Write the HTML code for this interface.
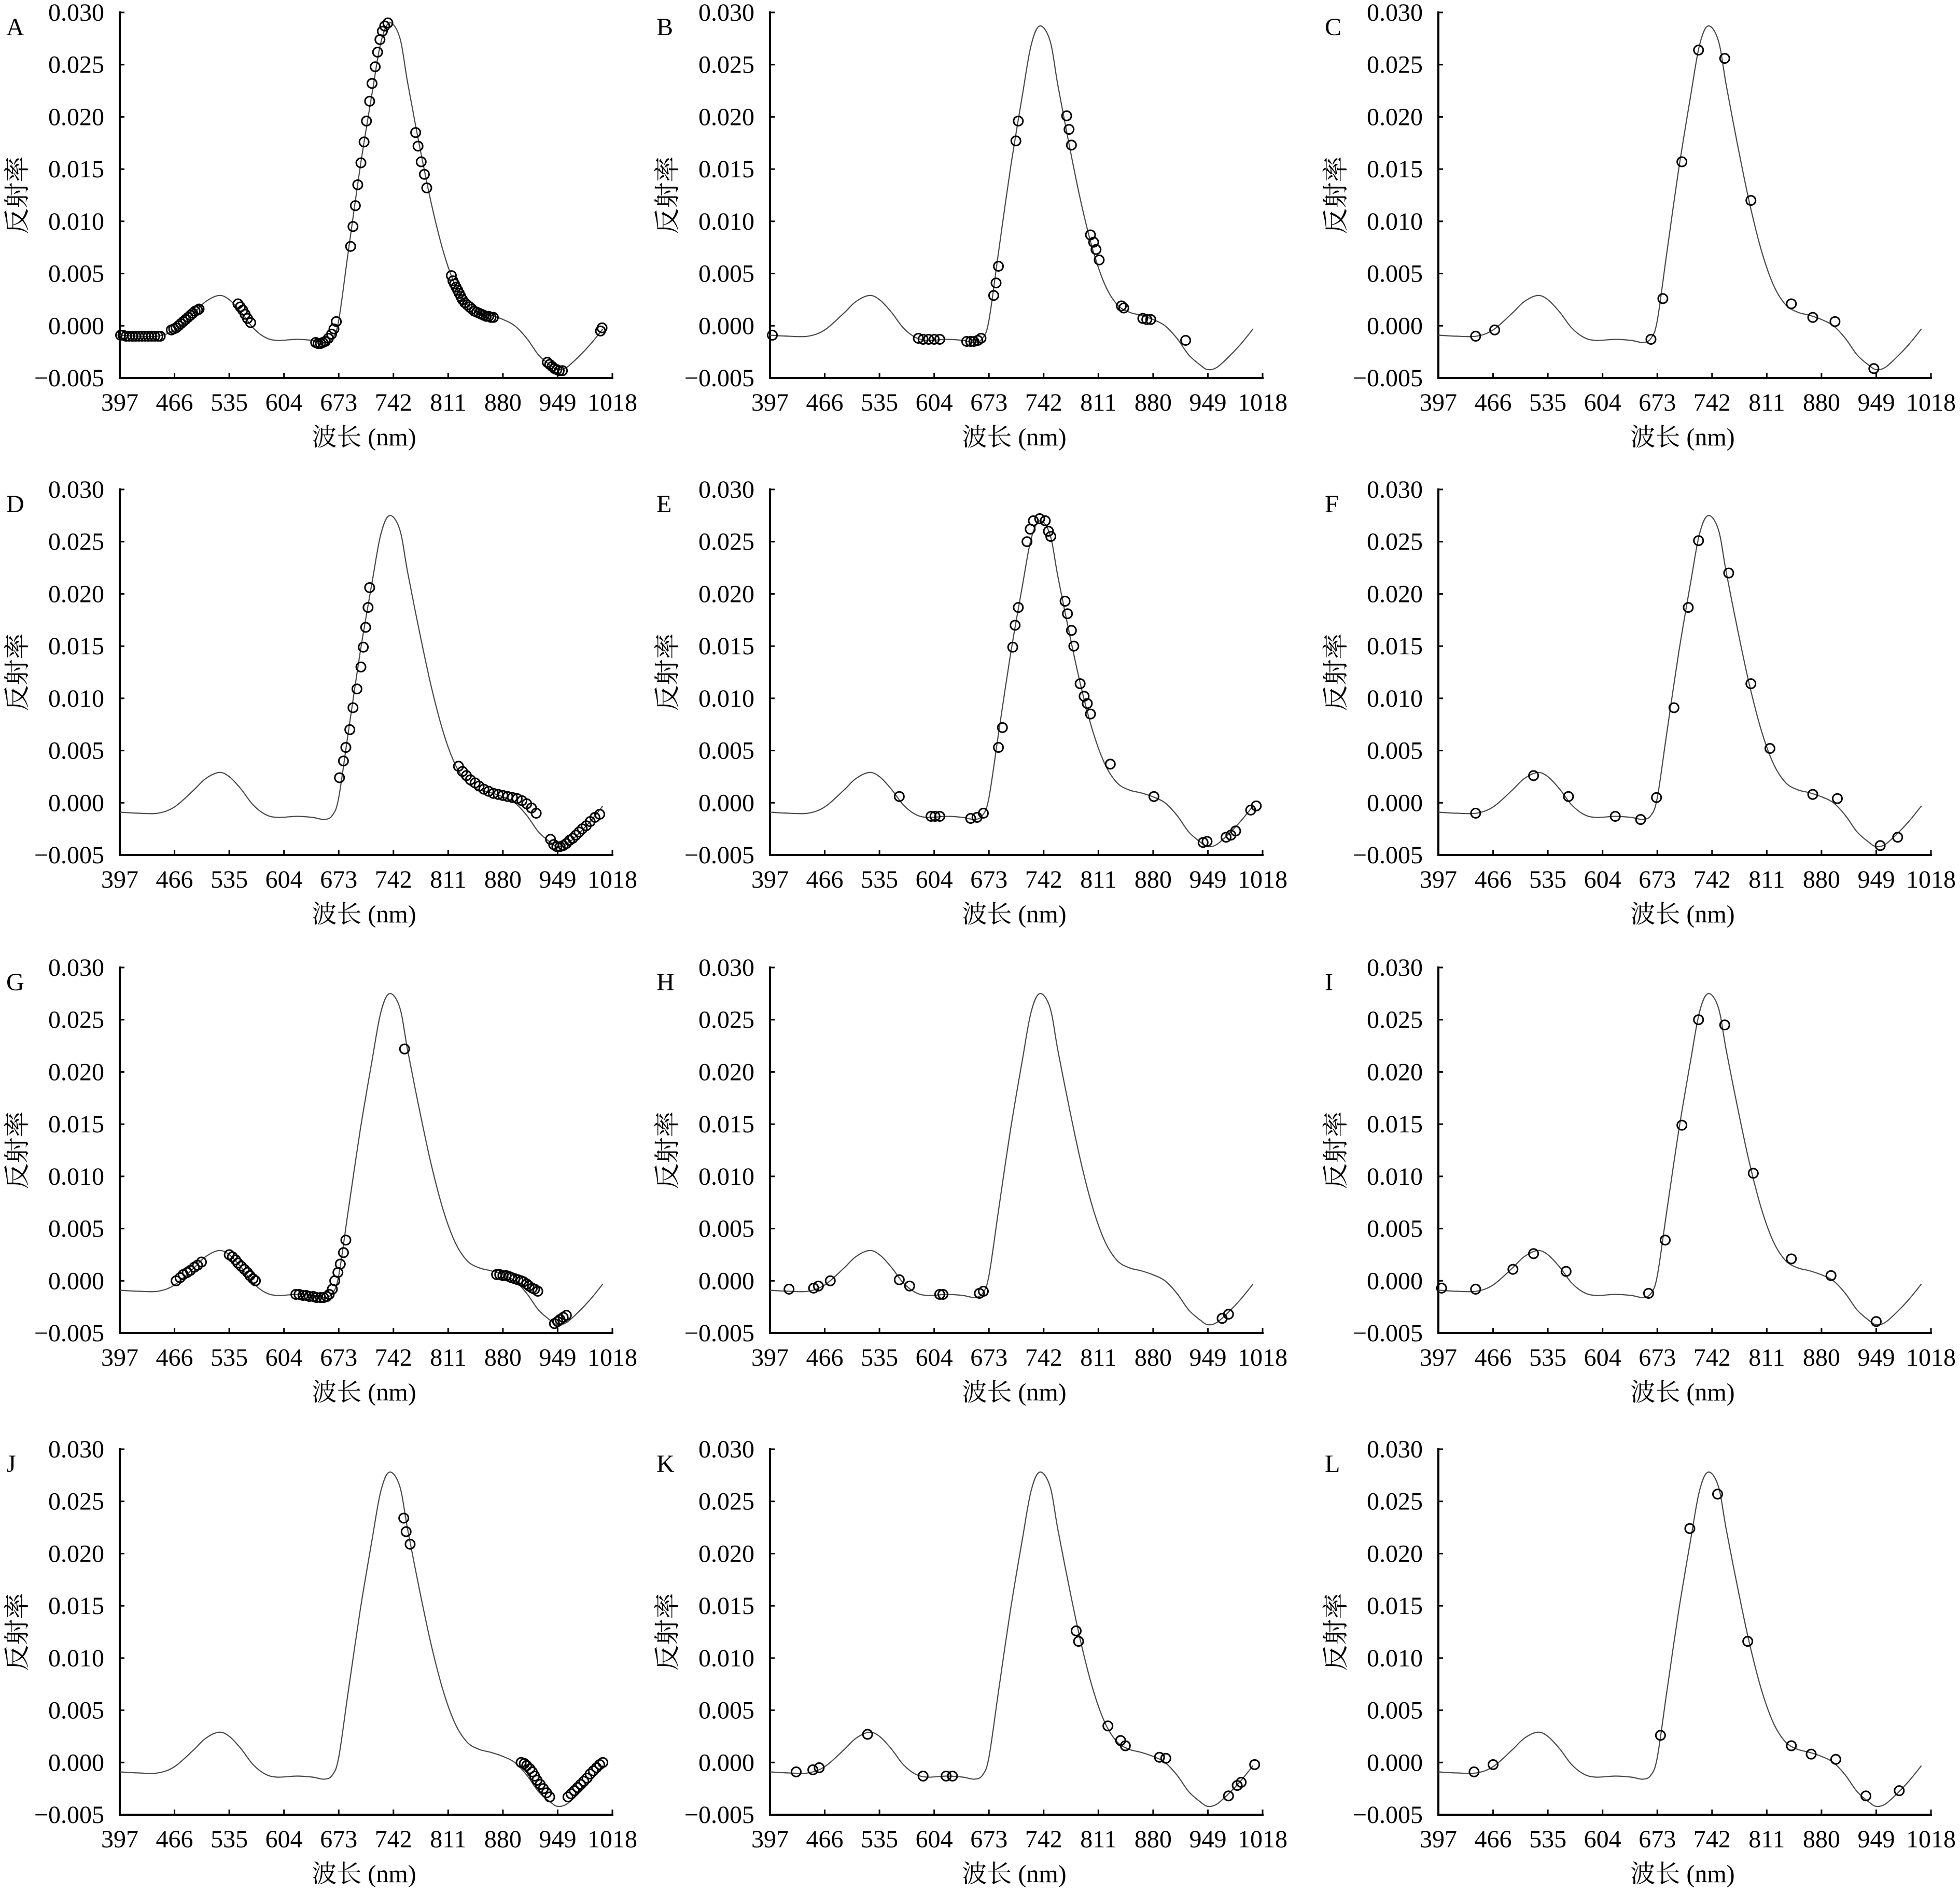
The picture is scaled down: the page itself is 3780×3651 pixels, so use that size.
<!DOCTYPE html>
<html><head><meta charset="utf-8">
<style>
html,body{margin:0;padding:0;background:#fff;}
svg{display:block;}
text{font-family:"Liberation Serif","Noto Serif CJK SC","Noto Sans CJK SC",serif;fill:#000;}
</style></head>
<body>
<svg id="fig" width="3780" height="3651" viewBox="0 0 3780 3651" xmlns="http://www.w3.org/2000/svg"></svg>
<script>
// ---- data ----
const panelLetters = ["A","B","C","D","E","F","G","H","I","J","K","L"];
const xTicks = [397,466,535,604,673,742,811,880,949,1018];
const yTicks = [0.030,0.025,0.020,0.015,0.010,0.005,0.000,-0.005];
const yTickLabels = ["0.030","0.025","0.020","0.015","0.010","0.005","0.000","\u22120.005"];
const curveNm  = [397,420,445,466,490,505,522,535,550,565,580,595,620,640,655,665,673,685,700,715,726,737,750,760,775,790,805,820,835,850,865,880,895,910,925,940,949,960,975,990,1006];
const curveVal = [-0.0009,-0.001,-0.001,-0.0004,0.0012,0.0023,0.0029,0.0025,0.0013,-0.0002,-0.0011,-0.0014,-0.0013,-0.0014,-0.0016,-0.0012,0.0005,0.007,0.015,0.022,0.0268,0.0287,0.0273,0.023,0.017,0.0115,0.007,0.0038,0.002,0.0013,0.001,0.0006,0.0,-0.0012,-0.0028,-0.0038,-0.0042,-0.004,-0.003,-0.0018,-0.0003];
const peakVals = [0.0290,0.0287,0.0287,0.0275,0.0270,0.0275,0.0275,0.0275,0.0275,0.0278,0.0278,0.0278];

const mA_nm = [398,401,405,409,413,417,421,425,429,433,437,441,445,448,462,465,468,471,474,477,480,483,486,489,492,495,497,546,549,552,555,558,562,644,647,650,653,656,660,664,667,670,688,691,694,697,701,705,708,712,715,719,722,725,728,731,735,770,773,777,781,784,815,817,819,821,823,825,827,829,832,835,838,841,844,847,850,853,856,859,862,865,868,936,939,942,945,948,951,955,1003,1005];
const mA_v  = [-0.0009,-0.0009,-0.001,-0.001,-0.001,-0.001,-0.001,-0.001,-0.001,-0.001,-0.001,-0.001,-0.001,-0.001,-0.0004,-0.0003,-0.0002,0.0,0.0002,0.0004,0.0006,0.0008,0.001,0.0012,0.0014,0.0015,0.0016,0.0021,0.0018,0.0015,0.0011,0.0007,0.0003,-0.0016,-0.0017,-0.0017,-0.0016,-0.0015,-0.0012,-0.0008,-0.0003,0.0004,0.0076,0.0095,0.0115,0.0135,0.0156,0.0176,0.0196,0.0215,0.0232,0.0248,0.0262,0.0274,0.0282,0.0287,0.029,0.0185,0.0172,0.0157,0.0145,0.0132,0.0048,0.0043,0.004,0.0037,0.0034,0.0031,0.0028,0.0025,0.0022,0.002,0.0018,0.0016,0.0014,0.0013,0.0012,0.0011,0.001,0.0009,0.0009,0.0008,0.0008,-0.0035,-0.0037,-0.0039,-0.0041,-0.0042,-0.0043,-0.0043,-0.0005,-0.0002];
const mB_nm = [400,584,590,597,604,611,645,650,654,659,663,679,682,685,707,710,771,774,777,801,805,808,812,840,843,867,872,877,921];
const mB_v  = [-0.0009,-0.0012,-0.0013,-0.0013,-0.0013,-0.0013,-0.0015,-0.0015,-0.0015,-0.0014,-0.0012,0.0029,0.0041,0.0057,0.0177,0.0196,0.0201,0.0188,0.0173,0.0087,0.008,0.0073,0.0063,0.0019,0.0017,0.0007,0.0006,0.0006,-0.0014];
const mC_nm = [444,468,665,680,704,725,758,791,842,869,897,946];
const mC_v  = [-0.001,-0.0004,-0.0013,0.0026,0.0157,0.0264,0.0256,0.012,0.0021,0.0008,0.0004,-0.0041];
const mD_nm = [674,679,682,687,691,696,701,704,707,710,712,824,829,834,839,845,850,856,862,868,874,880,886,892,898,904,910,916,922,940,944,948,952,956,960,964,968,972,976,980,985,990,996,1002];
const mD_v  = [0.0024,0.004,0.0053,0.007,0.0091,0.0109,0.013,0.0149,0.0168,0.0187,0.0206,0.0035,0.003,0.0026,0.0022,0.0019,0.0016,0.0013,0.0011,0.0009,0.0008,0.0007,0.0006,0.0005,0.0004,0.0002,-0.0001,-0.0005,-0.001,-0.0035,-0.004,-0.0042,-0.0042,-0.0041,-0.0039,-0.0036,-0.0034,-0.0031,-0.0028,-0.0025,-0.0022,-0.0018,-0.0014,-0.0011];
const mE_nm = [560,600,605,611,650,658,666,685,690,703,706,710,721,725,729,737,744,748,751,769,772,777,780,788,793,797,801,826,881,943,948,972,978,984,1003,1010];
const mE_v  = [0.0006,-0.0013,-0.0013,-0.0013,-0.0015,-0.0014,-0.001,0.0053,0.0072,0.0149,0.017,0.0187,0.025,0.0262,0.027,0.0272,0.027,0.026,0.0255,0.0193,0.0181,0.0165,0.015,0.0114,0.0102,0.0095,0.0085,0.0037,0.0006,-0.0038,-0.0037,-0.0033,-0.0031,-0.0027,-0.0007,-0.0003];
const mF_nm = [444,517,561,620,652,672,694,712,725,763,791,815,869,900,954,976];
const mF_v  = [-0.001,0.0026,0.0006,-0.0013,-0.0016,0.0005,0.0091,0.0187,0.0251,0.022,0.0114,0.0052,0.0008,0.0004,-0.0041,-0.0033];
const mG_nm = [468,473,477,482,486,491,495,500,535,539,543,546,550,554,558,561,565,568,619,623,628,632,636,641,645,650,654,658,661,665,668,672,675,679,682,756,872,876,880,884,888,891,895,899,903,906,910,913,917,920,924,945,949,952,956,960];
const mG_v  = [0.0,0.0003,0.0006,0.0008,0.001,0.0013,0.0015,0.0018,0.0025,0.0023,0.002,0.0017,0.0014,0.0011,0.0008,0.0005,0.0002,0.0,-0.0013,-0.0013,-0.0014,-0.0014,-0.0015,-0.0015,-0.0016,-0.0016,-0.0016,-0.0015,-0.0013,-0.0008,0.0,0.0008,0.0016,0.0027,0.0039,0.0222,0.0006,0.0006,0.0005,0.0005,0.0004,0.0003,0.0002,0.0001,0.0,-0.0001,-0.0003,-0.0005,-0.0007,-0.0008,-0.001,-0.0041,-0.0039,-0.0037,-0.0035,-0.0033];
const mH_nm = [421,452,458,473,560,573,611,615,661,666,967,975];
const mH_v  = [-0.0008,-0.0007,-0.0005,0.0,0.0001,-0.0005,-0.0013,-0.0013,-0.0012,-0.001,-0.0036,-0.0032];
const mI_nm = [401,444,491,517,558,662,683,704,725,758,794,842,892,949];
const mI_v  = [-0.0007,-0.0008,0.0011,0.0026,0.0009,-0.0012,0.0039,0.0149,0.025,0.0245,0.0103,0.0021,0.0005,-0.0039];
const mJ_nm = [755,758,763,903,907,910,914,917,920,923,927,931,935,939,962,966,970,974,978,982,986,990,994,998,1002,1006];
const mJ_v  = [0.0234,0.0221,0.0209,0.0,-0.0001,-0.0003,-0.0006,-0.0009,-0.0013,-0.0017,-0.0021,-0.0025,-0.0029,-0.0033,-0.0033,-0.003,-0.0027,-0.0024,-0.0021,-0.0018,-0.0015,-0.0011,-0.0008,-0.0005,-0.0002,0.0];
const mK_nm = [430,451,459,520,590,619,627,783,786,823,839,845,888,896,975,986,991,1008];
const mK_v  = [-0.0009,-0.0007,-0.0005,0.0027,-0.0013,-0.0013,-0.0013,0.0126,0.0116,0.0035,0.0021,0.0016,0.0005,0.0004,-0.0032,-0.0022,-0.0019,-0.0002];
const mL_nm = [442,466,677,714,749,787,842,867,898,936,978];
const mL_v  = [-0.0009,-0.0002,0.0026,0.0224,0.0257,0.0116,0.0016,0.0008,0.0003,-0.0032,-0.0027];

const markerNm = [mA_nm,mB_nm,mC_nm,mD_nm,mE_nm,mF_nm,mG_nm,mH_nm,mI_nm,mJ_nm,mK_nm,mL_nm];
const markerV  = [mA_v,mB_v,mC_v,mD_v,mE_v,mF_v,mG_v,mH_v,mI_v,mJ_v,mK_v,mL_v];

// ---- layout ----
const colX = [231,1485,2774];
const rowY = [24,944,1866,2795];
const W = 950, H = 705;
const NS = "http://www.w3.org/2000/svg";
const svg = document.getElementById("fig");

function el(tag, attrs, parent){
  const e = document.createElementNS(NS, tag);
  for (const k in attrs) e.setAttribute(k, attrs[k]);
  parent.appendChild(e);
  return e;
}
function catmull(pts){
  let d = "M" + pts[0][0].toFixed(1) + "," + pts[0][1].toFixed(1);
  for (let i=0;i<pts.length-1;i++){
    const p0 = pts[Math.max(0,i-1)], p1 = pts[i], p2 = pts[i+1], p3 = pts[Math.min(pts.length-1,i+2)];
    const c1x = p1[0]+(p2[0]-p0[0])/6, c1y = p1[1]+(p2[1]-p0[1])/6;
    const c2x = p2[0]-(p3[0]-p1[0])/6, c2y = p2[1]-(p3[1]-p1[1])/6;
    d += " C"+c1x.toFixed(1)+","+c1y.toFixed(1)+" "+c2x.toFixed(1)+","+c2y.toFixed(1)+" "+p2[0].toFixed(1)+","+p2[1].toFixed(1);
  }
  return d;
}

for (let p=0;p<12;p++){
  const ox = colX[p%3], oy = rowY[Math.floor(p/3)];
  const xs = nm => ox + (nm-397)/(1018-397)*W;
  const ys = v => oy + (0.030 - v)/0.035*H;
  const g = el("g", {}, svg);
  
  

  const lt = el("text", {x: ox-219, y: oy+44, "font-size": 48}, g);
  
  
  lt.textContent = panelLetters[p];

  const ya = el("line", {x1: ox, y1: oy-2, x2: ox, y2: oy+H+2, stroke:"#000", "stroke-width":4}, g);
  
  
  const xa = el("line", {x1: ox-2, y1: oy+H, x2: ox+W+2, y2: oy+H, stroke:"#000", "stroke-width":4}, g);
  
  

  yTicks.forEach((v,i)=>{
    const y = ys(v);
    const tk = el("line", {x1: ox, y1: y, x2: ox+9, y2: y, stroke:"#000", "stroke-width":3}, g);
    
    
    const t = el("text", {x: ox-30, y: y+16, "font-size": 48, "text-anchor":"end"}, g);
    
    
    t.textContent = yTickLabels[i];
  });
  xTicks.forEach(n=>{
    const x = xs(n);
    const tk = el("line", {x1: x, y1: oy+H, x2: x, y2: oy+H-10, stroke:"#000", "stroke-width":3}, g);
    
    
    const t = el("text", {x: x, y: oy+H+63, "font-size": 48, "text-anchor":"middle"}, g);
    
    
    t.textContent = String(n);
  });

  const xt = el("text", {x: ox+W/2-4, y: oy+H+130, "font-size": 48, "text-anchor":"middle"}, g);
  
  
  xt.textContent = "波长 (nm)";
  const yt = el("text", {x: 0, y: 0, "font-size": 50, "text-anchor":"middle", transform: "translate("+(ox-181)+","+(oy+H/2)+") rotate(-90)"}, g);
  
  
  yt.textContent = "反射率";

  const k = peakVals[p]/0.0287;
  const pts = curveNm.map((n,i)=>{
    let v = curveVal[i];
    if (n>=673 && n<=880 && v>0) v = v*k;
    return [xs(n), ys(v)];
  });
  const path = el("path", {d: catmull(pts), fill:"none", stroke:"#4a4a4a", "stroke-width":2.2}, g);
  
  

  const nms = markerNm[p], vs = markerV[p];
  for (let i=0;i<nms.length;i++){
    const c = el("circle", {cx: xs(nms[i]), cy: ys(vs[i]), r: 9, fill:"none", stroke:"#000", "stroke-width":3}, g);
    
    
  }
}
</script>
</body></html>
